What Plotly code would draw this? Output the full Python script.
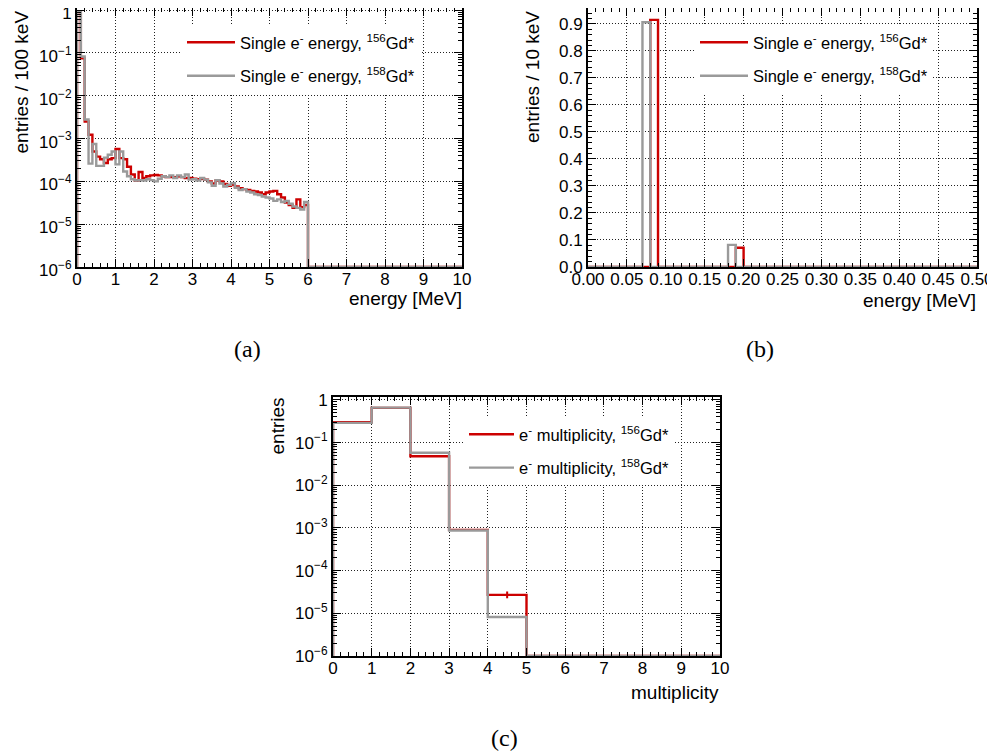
import plotly.graph_objects as go

# ---------------- data ----------------
# (a) single electron energy, 100 keV bins from 0 to 10 MeV
energy_bin_width_a = 0.1
single_e_156_a = [0.91, 0.075, 0.0025, 0.00123, 0.0005, 0.00038, 0.00033, 0.00027, 0.00033, 0.00035,
                  0.00057, 0.00035, 0.00033, 0.00022, 0.000145, 0.000105, 0.000166, 0.00012, 0.000132, 0.000138,
                  0.000141, 0.000138, 0.000132, 0.000126, 0.000126, 0.000126, 0.000132, 0.000126, 0.00012, 0.00012,
                  0.000115, 0.000112, 0.000115, 0.00011, 0.0001, 0.000089, 0.000105, 0.0001, 0.000087, 0.000079,
                  0.000083, 0.000076, 0.000069, 0.000066, 0.000063, 0.00006, 0.000058, 0.000055, 0.00005, 0.000055,
                  0.000058, 0.00006, 0.00005, 0.000042, 0.000032, 0.000028, 0.000024, 0.000038, 0.000025, 0.000028] + [0.0] * 40
single_e_158_a = [0.90, 0.083, 0.0028, 0.00026, 0.00075, 0.00023, 0.00023, 0.00036, 0.00042, 0.0005,
                  0.00025, 0.0005, 0.00017, 0.000132, 0.000112, 0.000105, 0.000107, 0.000105, 0.000112, 0.000107,
                  0.0001, 0.000115, 0.000132, 0.000126, 0.000138, 0.00012, 0.000138, 0.000126, 0.000145, 0.00011,
                  0.000112, 0.000105, 0.00012, 0.00011, 0.000095, 0.000079, 0.000107, 0.000089, 0.000076, 0.000083,
                  0.000091, 0.000071, 0.000063, 0.000066, 0.000058, 0.000055, 0.00005, 0.000048, 0.000044, 0.000042,
                  0.00004, 0.000035, 0.000038, 0.000033, 0.000035, 0.00003, 0.000026, 0.000024, 0.000022, 0.000033] + [0.0] * 40

# (b) single electron energy, 10 keV bins from 0 to 0.5 MeV
energy_bin_width_b = 0.01
single_e_156_b = [0.0] * 8 + [0.915] + [0.0] * 10 + [0.071] + [0.0] * 30
single_e_158_b = [0.0] * 7 + [0.906] + [0.0] * 10 + [0.082] + [0.0] * 31

# (c) electron multiplicity, unit bins 0..10
multiplicity_bins = list(range(11))
mult_156 = [0.30, 0.65, 0.048, 0.0009, 2.7e-5, 0, 0, 0, 0, 0]
mult_158 = [0.29, 0.66, 0.058, 0.00087, 8.2e-6, 0, 0, 0, 0, 0]
mult_156_err_bin = [4.5]
mult_156_err_val = [2.7e-5]
mult_156_err_up = [0.55e-5]
mult_156_err_dn = [0.45e-5]

log_tick_vals = [1e-6, 1e-5, 1e-4, 1e-3, 1e-2, 1e-1, 1]
log_tick_text = ["10<sup>\u22126</sup>", "10<sup>\u22125</sup>", "10<sup>\u22124</sup>", "10<sup>\u22123</sup>",
                 "10<sup>\u22122</sup>", "10<sup>\u22121</sup>", "1"]

RED = "#cc0000"
GRAY = "#9a9a9a"
FONT = "Liberation Sans, Arial, sans-serif"
SERIF = "Liberation Serif, DejaVu Serif, serif"

# the page body has an 8px margin: size the figure so it ends at the window edge
OFF = 8
WIN_W, WIN_H = 995, 754
W, H = WIN_W - OFF, WIN_H - OFF


def px_x(p):
    return (p - OFF) / W


def px_y(p):
    return min(1.0, 1 - (p - OFF) / H)


def step_xy(edges, vals, floor):
    disp = [v if v > 0 else floor for v in vals]
    x = [edges[0]] + list(edges)
    y = [floor] + disp + [disp[-1]]
    return x, y


def edges_for(n, w):
    return [round(i * w, 6) for i in range(n + 1)]


LW = 2.4
fig = go.Figure()

# panel (a)
ea = edges_for(len(single_e_156_a), energy_bin_width_a)
for vals, col, name, lg in [
    (single_e_156_a, RED, "Single e<sup>-</sup> energy, <sup>156</sup>Gd*", "g1"),
    (single_e_158_a, GRAY, "Single e<sup>-</sup> energy, <sup>158</sup>Gd*", "g2"),
]:
    x, y = step_xy(ea, vals, 1e-6)
    fig.add_trace(go.Scatter(x=x, y=y, mode="lines", line=dict(color=col, width=LW, shape="hv"),
                             name=name, legend="legend", legendgroup="a" + lg, xaxis="x", yaxis="y"))

# panel (b)
eb = edges_for(len(single_e_156_b), energy_bin_width_b)
for vals, col, name, lg in [
    (single_e_156_b, RED, "Single e<sup>-</sup> energy, <sup>156</sup>Gd*", "g1"),
    (single_e_158_b, GRAY, "Single e<sup>-</sup> energy, <sup>158</sup>Gd*", "g2"),
]:
    x, y = step_xy(eb, vals, 0.0)
    fig.add_trace(go.Scatter(x=x, y=y, mode="lines", line=dict(color=col, width=LW, shape="hv"),
                             name=name, legend="legend2", legendgroup="b" + lg, xaxis="x2", yaxis="y2"))

# panel (c)
for vals, col, name, lg in [
    (mult_156, RED, "e<sup>-</sup> multiplicity, <sup>156</sup>Gd*", "g1"),
    (mult_158, GRAY, "e<sup>-</sup> multiplicity, <sup>158</sup>Gd*", "g2"),
]:
    x, y = step_xy(multiplicity_bins, vals, 1e-6)
    fig.add_trace(go.Scatter(x=x, y=y, mode="lines", line=dict(color=col, width=LW, shape="hv"),
                             name=name, legend="legend3", legendgroup="c" + lg, xaxis="x3", yaxis="y3"))
fig.add_trace(go.Scatter(x=mult_156_err_bin, y=mult_156_err_val, mode="markers",
                         marker=dict(size=1, color=RED),
                         error_y=dict(type="data", array=mult_156_err_up, arrayminus=mult_156_err_dn,
                                      color=RED, thickness=2, width=0),
                         showlegend=False, xaxis="x3", yaxis="y3"))


common = dict(showline=True, linecolor="black", linewidth=2, mirror="allticks",
              ticks="inside", ticklen=8, tickwidth=1, tickcolor="black",
              showgrid=True, gridcolor="#222222", griddash="1px,2px", gridwidth=1,
              zeroline=False, automargin=False, tickangle=0, ticklabeloverflow="allow",
              tickfont=dict(family=FONT, size=17, color="black"))

minor_lin = lambda d: dict(ticks="inside", ticklen=4, tickwidth=1, tickcolor="black", showgrid=False, dtick=d)
minor_log_vals = [k * 10 ** n for n in range(-6, 0) for k in range(2, 10)]
minor_log = dict(ticks="inside", ticklen=4, tickwidth=1, tickcolor="black", showgrid=False,
                 tickmode="array", tickvals=minor_log_vals)

LEG_FONT = dict(family=FONT, size=16.5, color="black")
fig.update_layout(
    width=W, height=H, margin=dict(l=0, r=0, t=0, b=0), autosize=False,
    paper_bgcolor="white", plot_bgcolor="white",
    font=dict(family=FONT, size=18, color="black"),
    xaxis=dict(domain=[px_x(77), px_x(462)], range=[0, 10], dtick=1, tick0=0, anchor="y",
               minor=minor_lin(0.2), ticklabelstandoff=-4, **common),
    yaxis=dict(domain=[px_y(267), px_y(8)], type="log", range=[-6, 0.051], anchor="x",
               tickmode="array", tickvals=log_tick_vals, ticktext=log_tick_text, minor=minor_log,
               ticklabelshift=3, **common),
    xaxis2=dict(domain=[px_x(588), px_x(977)], range=[0, 0.5], dtick=0.05, tick0=0, tickformat=".2f",
                anchor="y2", minor=minor_lin(0.01), ticklabelstandoff=-4, **common),
    yaxis2=dict(domain=[px_y(267), px_y(8)], range=[0, 0.959], dtick=0.1, tick0=0, tickformat=".1f",
                anchor="x2", minor=minor_lin(0.02), **common),
    xaxis3=dict(domain=[px_x(333), px_x(720)], range=[0, 10], dtick=1, tick0=0, anchor="y3",
                minor=minor_lin(0.2), ticklabelstandoff=-4, **common),
    yaxis3=dict(domain=[px_y(656), px_y(397)], type="log", range=[-6, 0.068], anchor="x3",
                tickmode="array", tickvals=log_tick_vals, ticktext=log_tick_text, minor=minor_log, **common),
    legend=dict(x=px_x(182), y=px_y(25), xanchor="left", yanchor="top", bgcolor="white",
                borderwidth=0, font=LEG_FONT, tracegroupgap=9, itemwidth=48),
    legend2=dict(x=px_x(695), y=px_y(25), xanchor="left", yanchor="top", bgcolor="white",
                 borderwidth=0, font=LEG_FONT, tracegroupgap=9, itemwidth=48),
    legend3=dict(x=px_x(464), y=px_y(417), xanchor="left", yanchor="top", bgcolor="white",
                 borderwidth=0, font=LEG_FONT, tracegroupgap=9, itemwidth=45),
)

ann = []


def add_text(text, x, y, xa, ya, angle=0, size=19, family=FONT):
    ann.append(dict(text=text, x=px_x(x), y=px_y(y), xref="paper", yref="paper", xanchor=xa, yanchor=ya,
                    showarrow=False, textangle=angle, font=dict(family=family, size=size, color="black")))


add_text("entries / 100 keV", 21, 9, "center", "top", -90)
add_text("energy [MeV]", 464, 298, "right", "middle")
add_text("entries / 10 keV", 532, 9, "center", "top", -90)
add_text("energy [MeV]", 978, 300, "right", "middle")
add_text("entries", 277, 396, "center", "top", -90)
add_text("multiplicity", 721, 692, "right", "middle")
add_text("(a)", 247, 349, "center", "middle", size=24, family=SERIF)
add_text("(b)", 760, 349, "center", "middle", size=24, family=SERIF)
add_text("(c)", 504, 738, "center", "middle", size=24, family=SERIF)
fig.update_layout(annotations=ann)

fig.write_html("out.html")
